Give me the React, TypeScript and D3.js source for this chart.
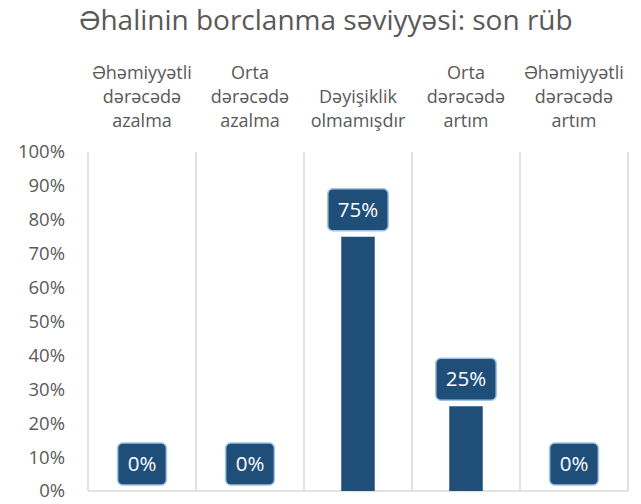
import { useEffect, useRef } from 'react';
import * as d3 from 'd3';

// chart data
const categories = [
  ['Əhəmiyyətli', 'dərəcədə', 'azalma'],
  ['Orta', 'dərəcədə', 'azalma'],
  ['Dəyişiklik', 'olmamışdır'],
  ['Orta', 'dərəcədə', 'artım'],
  ['Əhəmiyyətli', 'dərəcədə', 'artım'],
];
const values = [0, 0, 0.75, 0.25, 0];
const yTicks = [0, 0.1, 0.2, 0.3, 0.4, 0.5, 0.6, 0.7, 0.8, 0.9, 1];
const title = 'Əhalinin borclanma səviyyəsi: son rüb';

const W = 641;
const H = 504;
const FONT = '"Open Sans", sans-serif';
const TEXT = '#595959';
const GRID = '#D9D9D9';
const BAR = '#1F4E79';

export default function App() {
  const svgRef = useRef<SVGSVGElement>(null);

  useEffect(() => {
    const svg = d3.select(svgRef.current);
    svg.selectAll('*').remove();

    const left = 88, right = 628, top = 152, bottom = 491;

    const x = d3.scaleBand<number>()
      .domain(d3.range(categories.length))
      .range([left, right]);
    const y = d3.scaleLinear().domain([0, 1]).range([bottom, top]);
    const barW = x.bandwidth() * 0.31;
    const pct = d3.format('.0%');

    // title
    svg.append('text')
      .attr('x', 326).attr('y', 30)
      .attr('text-anchor', 'middle')
      .attr('font-family', FONT).attr('font-size', 28)
      .attr('fill', TEXT)
      .text(title);

    // category labels (top), bottom line aligned
    categories.forEach((lines, i) => {
      const cx = x(i)! + x.bandwidth() / 2;
      const t = svg.append('text')
        .attr('text-anchor', 'middle')
        .attr('font-family', FONT).attr('font-size', 18)
        .attr('fill', TEXT);
      const startY = 127 - (lines.length - 1) * 24;
      lines.forEach((ln, j) => {
        t.append('tspan').attr('x', cx).attr('y', startY + j * 24).text(ln);
      });
    });

    // vertical separators
    const seps = d3.range(categories.length + 1).map(i =>
      i < categories.length ? x(i)! : right);
    svg.append('g').selectAll('line')
      .data(seps).enter().append('line')
      .attr('x1', d => d).attr('x2', d => d)
      .attr('y1', top).attr('y2', bottom)
      .attr('stroke', GRID).attr('stroke-width', 1.5);

    // baseline
    svg.append('line')
      .attr('x1', left).attr('x2', right)
      .attr('y1', bottom).attr('y2', bottom)
      .attr('stroke', GRID).attr('stroke-width', 1.5);

    // y tick labels
    svg.append('g').selectAll('text')
      .data(yTicks).enter().append('text')
      .attr('x', 65).attr('y', d => y(d))
      .attr('dy', '0.35em')
      .attr('text-anchor', 'end')
      .attr('font-family', FONT).attr('font-size', 18.5)
      .attr('fill', TEXT)
      .text(d => pct(d));

    // bars
    svg.append('g').selectAll('rect')
      .data(values).enter().append('rect')
      .attr('x', (d, i) => x(i)! + (x.bandwidth() - barW) / 2)
      .attr('y', d => y(d))
      .attr('width', barW)
      .attr('height', d => bottom - y(d))
      .attr('fill', BAR);

    // data labels in rounded boxes
    const labels = svg.append('g').selectAll('g')
      .data(values).enter().append('g')
      .attr('transform', (d, i) =>
        `translate(${x(i)! + x.bandwidth() / 2},${y(d) - 6 - 21})`);
    const boxes = labels.append('rect')
      .attr('y', -21)
      .attr('height', 42)
      .attr('rx', 5)
      .attr('fill', BAR)
      .attr('stroke', '#9DC3E6')
      .attr('stroke-width', 1.5);
    const texts = labels.append('text')
      .attr('text-anchor', 'middle')
      .attr('dy', '0.35em')
      .attr('font-family', FONT).attr('font-size', 20.5)
      .attr('fill', '#FFFFFF')
      .text(d => pct(d));
    texts.each(function (d, i) {
      const w = (this as SVGTextElement).getComputedTextLength() + 20;
      d3.select(boxes.nodes()[i]).attr('x', -w / 2).attr('width', w);
    });
  }, []);

  return (
    <div>
      <style>{`body { margin: 0; background: #fff; }`}</style>
      <svg ref={svgRef} width={W} height={H} style={{ display: 'block' }} />
    </div>
  );
}
